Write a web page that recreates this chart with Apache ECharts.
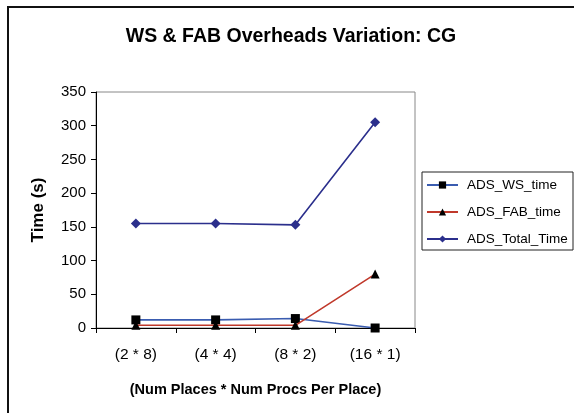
<!DOCTYPE html>
<html>
<head>
<meta charset="utf-8">
<script src="https://cdn.jsdelivr.net/npm/echarts@6/dist/echarts.min.js"></script>
<style>
  html, body { margin: 0; padding: 0; background: #fff; }
  #chart { width: 574px; height: 413px; }
</style>
</head>
<body>
<div id="chart"></div>
<script>
// Configurations: places * processors per place
const categories = ['(2 * 8)', '(4 * 4)', '(8 * 2)', '(16 * 1)'];
// Measured times in seconds
const wsTime = [12, 12, 14, 0];
const fabTime = [4, 4, 4, 80];
const totalTime = [155, 155, 153, 305];
const yTicks = [0, 50, 100, 150, 200, 250, 300, 350];

const FONT = '"Liberation Sans", Arial, sans-serif';

const chart = echarts.init(document.getElementById('chart'), null, { renderer: 'canvas' });

chart.setOption({
  animation: false,
  backgroundColor: '#ffffff',
  title: {
    text: 'WS & FAB Overheads Variation: CG',
    left: 286,
    top: 22,
    textAlign: 'center',
    textStyle: { fontFamily: FONT, fontSize: 19.5, fontWeight: 'bold', color: '#000' }
  },
  graphic: [
    {
      type: 'rect',
      shape: { x: 8, y: 7, width: 620, height: 460 },
      style: { fill: 'none', stroke: '#111', lineWidth: 2 },
      silent: true,
      z: 100
    },
    {
      type: 'rect',
      shape: { x: 422, y: 172, width: 151, height: 78 },
      style: { fill: '#fff', stroke: '#222', lineWidth: 1 },
      silent: true,
      z: 1
    }
  ],
  legend: {
    orient: 'vertical',
    left: 421,
    top: 173,
    itemGap: 13,
    itemWidth: 31,
    itemHeight: 9,
    z: 5,
    textStyle: { fontFamily: FONT, fontSize: 13.5, color: '#000', padding: [0, 0, 0, 4] },
    data: ['ADS_WS_time', 'ADS_FAB_time', 'ADS_Total_Time']
  },
  grid: {
    left: 96,
    top: 92,
    right: 159,
    bottom: 85,
    show: true,
    borderColor: '#888',
    borderWidth: 1,
    backgroundColor: '#fff'
  },
  xAxis: {
    type: 'category',
    data: categories,
    boundaryGap: true,
    name: '(Num Places * Num Procs Per Place)',
    nameLocation: 'middle',
    nameGap: 54,
    nameTextStyle: { fontFamily: FONT, fontSize: 14.5, fontWeight: 'bold', color: '#000' },
    axisLine: { lineStyle: { color: '#000', width: 1 } },
    axisTick: { show: true, alignWithLabel: false, length: 5, lineStyle: { color: '#000' } },
    axisLabel: { fontFamily: FONT, fontSize: 15.5, color: '#000', margin: 19 }
  },
  yAxis: {
    type: 'value',
    min: yTicks[0],
    max: yTicks[yTicks.length - 1],
    interval: 50,
    name: 'Time (s)',
    nameLocation: 'middle',
    nameGap: 49,
    nameTextStyle: { fontFamily: FONT, fontSize: 17, fontWeight: 'bold', color: '#000' },
    axisLine: { show: true, lineStyle: { color: '#000', width: 1 } },
    axisTick: { show: true, length: 5, lineStyle: { color: '#000' } },
    axisLabel: { fontFamily: FONT, fontSize: 15, color: '#000', margin: 10 },
    splitLine: { show: false }
  },
  series: [
    {
      name: 'ADS_WS_time',
      type: 'line',
      data: wsTime,
      symbol: 'rect',
      symbolSize: 9,
      lineStyle: { color: '#3a5cb0', width: 1.6 },
      itemStyle: { color: '#000' },
      z: 3
    },
    {
      name: 'ADS_FAB_time',
      type: 'line',
      data: fabTime,
      symbol: 'triangle',
      symbolSize: 9,
      lineStyle: { color: '#c0392b', width: 1.6 },
      itemStyle: { color: '#000' },
      z: 4
    },
    {
      name: 'ADS_Total_Time',
      type: 'line',
      data: totalTime,
      symbol: 'diamond',
      symbolSize: 10,
      lineStyle: { color: '#2b2f8c', width: 1.6 },
      itemStyle: { color: '#2b2f8c' },
      z: 2
    }
  ]
});
</script>
</body>
</html>
